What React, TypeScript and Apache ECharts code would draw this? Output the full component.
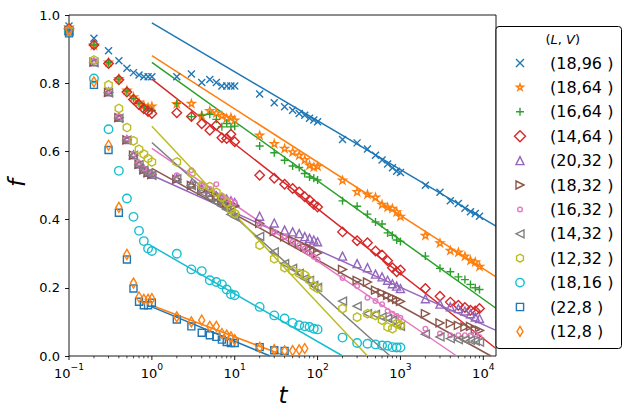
import React, { useEffect, useRef } from 'react';
import * as echarts from 'echarts';

// ---------------- data ----------------
const T_EARLY = [0.1, 0.2, 0.3, 0.4, 0.5, 0.6, 0.7, 0.8, 0.9, 1];
const T_UNITS = [2, 3, 4, 5, 6, 7, 8, 9, 10];
const T_TENS = [20, 30, 40, 50, 60, 70, 80, 90, 100];
const T_HUNDREDS = [200, 300, 400, 500, 600, 700, 800, 900, 1000];
const T_THOUSANDS = [2000, 3000, 4000, 5000, 6000, 7000, 8000, 9000];
const T_ALL = [...T_EARLY, ...T_UNITS, ...T_TENS, ...T_HUNDREDS, ...T_THOUSANDS];

const seriesNames = ['(18,96 )', '(18,64 )', '(16,64 )', '(14,64 )', '(20,32 )', '(18,32 )', '(16,32 )', '(14,32 )', '(12,32 )', '(18,16 )', '(22,8 )', '(12,8 )'];

const f_18_96 = [0.968, 0.932, 0.895, 0.866, 0.844, 0.831, 0.824, 0.819, 0.819, 0.819,
  0.819, 0.827, 0.802, 0.811, 0.802, 0.792, 0.792, 0.792, 0.792,
  0.768, 0.743, 0.731, 0.721, 0.711, 0.706, 0.697, 0.692, 0.687,
  0.635, 0.625, 0.607, 0.589, 0.575, 0.563, 0.552, 0.542, 0.538,
  0.501, 0.480, 0.455, 0.447, 0.433, 0.423, 0.418, 0.410];
const f_18_64 = [0.965, 0.912, 0.862, 0.814, 0.780, 0.760, 0.745, 0.735, 0.730, 0.733,
  0.740, 0.741, 0.706, 0.720, 0.713, 0.705, 0.698, 0.700, 0.692,
  0.648, 0.623, 0.609, 0.599, 0.589, 0.576, 0.560, 0.555, 0.557,
  0.516, 0.482, 0.475, 0.466, 0.445, 0.437, 0.433, 0.423, 0.410,
  0.354, 0.332, 0.310, 0.305, 0.293, 0.281, 0.276, 0.263];
const f_16_64 = [0.962, 0.912, 0.860, 0.812, 0.777, 0.755, 0.741, 0.731, 0.725, 0.720,
  0.740, 0.702, 0.706, 0.709, 0.694, 0.672, 0.682, 0.672, 0.674,
  0.616, 0.596, 0.574, 0.557, 0.553, 0.535, 0.525, 0.521, 0.516,
  0.455, 0.439, 0.416, 0.393, 0.387, 0.361, 0.354, 0.340, 0.336,
  0.293, 0.257, 0.247, 0.232, 0.224, 0.210, 0.200, 0.195];
const f_14_64 = [0.960, 0.912, 0.858, 0.810, 0.774, 0.752, 0.737, 0.725, 0.717, 0.711,
  0.713, 0.702, 0.681, 0.662, 0.677, 0.640, 0.638, 0.650, 0.628,
  0.530, 0.521, 0.504, 0.491, 0.481, 0.467, 0.457, 0.445, 0.437,
  0.364, 0.338, 0.332, 0.308, 0.296, 0.279, 0.259, 0.247, 0.252,
  0.198, 0.175, 0.158, 0.149, 0.142, 0.134, 0.132, 0.139];
const f_20_32 = [0.955, 0.863, 0.775, 0.700, 0.635, 0.590, 0.563, 0.548, 0.539, 0.533,
  0.521, 0.505, 0.490, 0.480, 0.470, 0.465, 0.460, 0.455, 0.450,
  0.410, 0.390, 0.369, 0.364, 0.359, 0.350, 0.345, 0.340, 0.335,
  0.293, 0.271, 0.259, 0.240, 0.232, 0.222, 0.212, 0.205, 0.198,
  0.168, 0.152, 0.144, 0.139, 0.132, 0.124, 0.114, 0.110];
const f_18_32 = [0.955, 0.862, 0.773, 0.699, 0.634, 0.589, 0.562, 0.546, 0.537, 0.532,
  0.518, 0.500, 0.485, 0.475, 0.465, 0.455, 0.450, 0.445, 0.440,
  0.389, 0.365, 0.349, 0.340, 0.330, 0.320, 0.318, 0.310, 0.302,
  0.254, 0.222, 0.217, 0.193, 0.185, 0.178, 0.171, 0.166, 0.160,
  0.124, 0.097, 0.095, 0.090, 0.085, 0.087, 0.077, 0.075];
const f_16_32 = [0.955, 0.865, 0.778, 0.703, 0.638, 0.592, 0.566, 0.550, 0.540, 0.535,
  0.530, 0.545, 0.500, 0.490, 0.504, 0.470, 0.460, 0.455, 0.450,
  0.384, 0.364, 0.349, 0.335, 0.325, 0.315, 0.301, 0.291, 0.283,
  0.229, 0.205, 0.171, 0.161, 0.152, 0.132, 0.124, 0.117, 0.112,
  0.080, 0.066, 0.061, 0.061, 0.061, 0.060, 0.064, 0.056];
const f_14_32 = [0.953, 0.860, 0.772, 0.697, 0.633, 0.588, 0.561, 0.545, 0.536, 0.530,
  0.520, 0.500, 0.480, 0.465, 0.450, 0.440, 0.430, 0.415, 0.408,
  0.351, 0.305, 0.271, 0.257, 0.242, 0.227, 0.222, 0.207, 0.201,
  0.161, 0.146, 0.124, 0.122, 0.114, 0.110, 0.105, 0.090, 0.087,
  0.064, 0.056, 0.051, 0.048, 0.047, 0.046, 0.044, 0.041];
const f_12_32 = [0.955, 0.868, 0.795, 0.726, 0.670, 0.631, 0.606, 0.592, 0.579, 0.569,
  0.569, 0.537, 0.500, 0.497, 0.480, 0.465, 0.450, 0.430, 0.418,
  0.325, 0.285, 0.259, 0.250, 0.242, 0.237, 0.222, 0.205, 0.198,
  0.139, 0.114, 0.124, 0.119, 0.105, 0.085, 0.080, 0.095, 0.090];
const f_18_16 = [0.950, 0.814, 0.665, 0.543, 0.462, 0.408, 0.367, 0.337, 0.315, 0.308,
  0.300, 0.254, 0.249, 0.222, 0.217, 0.210, 0.195, 0.181, 0.178,
  0.144, 0.119, 0.110, 0.097, 0.090, 0.087, 0.085, 0.080, 0.078,
  0.054, 0.038, 0.036, 0.034, 0.031, 0.030, 0.026, 0.025, 0.025];
const f_22_8 = [0.946, 0.795, 0.604, 0.420, 0.283, 0.198, 0.159, 0.149, 0.149, 0.156,
  0.107, 0.087, 0.068, 0.061, 0.056, 0.048, 0.041, 0.038, 0.038,
  0.026, 0.017, 0.015];
const f_12_8 = [0.955, 0.804, 0.618, 0.436, 0.298, 0.214, 0.173, 0.166, 0.166, 0.168,
  0.115, 0.100, 0.105, 0.087, 0.087, 0.066, 0.061, 0.056, 0.048,
  0.025, 0.019, 0.015, 0.016, 0.018, 0.022];

const seriesValues = [f_18_96, f_18_64, f_16_64, f_14_64, f_20_32, f_18_32, f_16_32, f_14_32, f_12_32, f_18_16, f_22_8, f_12_8];

// fitted straight lines (in log t): start / end points
const fitStartT = [1, 1, 1, 1, 1, 1, 1, 1, 1, 1, 1, 1];
const fitStartF = [0.977, 0.881, 0.861, 0.812, 0.530, 0.550, 0.609, 0.626, 0.674, 0.322, 0.144, 0.148];
const fitEndT = [14230, 14230, 14230, 14230, 14230, 12400, 4780, 750, 400, 201, 26.7, 41];
const fitEndF = [0.381, 0.232, 0.140, 0.022, 0.075, 0, 0, 0, 0, 0, 0, 0];

const X_MIN = 0.1;
const X_MAX = 14230;
const MAJOR_TICKS = [0.1, 1, 10, 100, 1000, 10000];
const MINOR_TICKS = [0.2, 0.3, 0.4, 0.5, 0.6, 0.7, 0.8, 0.9,
  2, 3, 4, 5, 6, 7, 8, 9, 20, 30, 40, 50, 60, 70, 80, 90,
  200, 300, 400, 500, 600, 700, 800, 900, 2000, 3000, 4000, 5000, 6000, 7000, 8000, 9000];

// ---------------- styles ----------------
const COLORS = ['#1f77b4', '#ff7f0e', '#2ca02c', '#d62728', '#9467bd', '#8c564b', '#e377c2', '#7f7f7f', '#bcbd22', '#17becf', '#1f77b4', '#ff7f0e'];
const KINDS = ['x', 'star', 'plus', 'D', 'up', 'right', 'circle', 'left', 'hex', 'circle', 'square', 'thin'];
const SYMBOL_SIZES = [7, 7.5, 8, 9.5, 8, 8, 4.6, 8, 8.5, 8.5, 7, 10];
const LEGEND_R = [4, 3.5, 4, 5.5, 4, 4, 2.3, 4, 4, 4.2, 3.6, 5];
const FONT = 'DejaVu Sans';

const n = (v: number) => v.toFixed(2);
function shape(kind: string, r: number): string {
  const c = 10;
  const pts = (arr: number[][]) => 'M' + arr.map((p) => n(p[0]) + ' ' + n(p[1])).join('L') + 'Z';
  switch (kind) {
    case 'x':
      return `M${n(c - r)} ${n(c - r)}L${n(c + r)} ${n(c + r)}M${n(c + r)} ${n(c - r)}L${n(c - r)} ${n(c + r)}`;
    case 'plus':
      return `M${n(c)} ${n(c - r)}L${n(c)} ${n(c + r)}M${n(c - r)} ${n(c)}L${n(c + r)} ${n(c)}`;
    case 'star': {
      const a: number[][] = [];
      for (let k = 0; k < 10; k++) {
        const ang = (-90 + 36 * k) * Math.PI / 180;
        const rr = k % 2 === 0 ? r : r * 0.382;
        a.push([c + rr * Math.cos(ang), c + rr * Math.sin(ang)]);
      }
      return pts(a);
    }
    case 'D':
      return pts([[c, c - r], [c + r, c], [c, c + r], [c - r, c]]);
    case 'thin':
      return pts([[c, c - r], [c + 0.6 * r, c], [c, c + r], [c - 0.6 * r, c]]);
    case 'up':
      return pts([[c, c - r], [c + r, c + r], [c - r, c + r]]);
    case 'right':
      return pts([[c + r, c], [c - r, c - r], [c - r, c + r]]);
    case 'left':
      return pts([[c - r, c], [c + r, c - r], [c + r, c + r]]);
    case 'square':
      return pts([[c - r, c - r], [c + r, c - r], [c + r, c + r], [c - r, c + r]]);
    case 'hex': {
      const a: number[][] = [];
      for (let k = 0; k < 6; k++) {
        const ang = (-90 + 60 * k) * Math.PI / 180;
        a.push([c + r * Math.cos(ang), c + r * Math.sin(ang)]);
      }
      return pts(a);
    }
    case 'circle':
    default:
      return `M${n(c - r)} ${n(c)}A${n(r)} ${n(r)} 0 1 0 ${n(c + r)} ${n(c)}A${n(r)} ${n(r)} 0 1 0 ${n(c - r)} ${n(c)}Z`;
  }
}
const seriesSymbol = (kind: string) => 'path://' + shape(kind, 10);
const legendSymbol = (kind: string, r: number) => 'path://M0 0M20 20' + shape(kind, r);

export default function App() {
  const ref = useRef<HTMLDivElement>(null);
  useEffect(() => {
    if (!ref.current) return;
    const chart = echarts.init(ref.current, undefined, { renderer: 'svg' });

    const series: any[] = [];
    seriesNames.forEach((name, i) => {
      const vals = seriesValues[i];
      series.push({
        type: 'scatter',
        name,
        data: vals.map((f, k) => [T_ALL[k], f]),
        symbol: seriesSymbol(KINDS[i]),
        symbolSize: SYMBOL_SIZES[i],
        symbolKeepAspect: true,
        itemStyle: { color: 'rgba(0,0,0,0)', borderColor: COLORS[i], borderWidth: 1.4, opacity: 1 },
        emphasis: { disabled: true },
        silent: true,
        z: 2,
      });
      series.push({
        type: 'line',
        name: 'fit' + i,
        data: [[fitStartT[i], fitStartF[i]], [fitEndT[i], fitEndF[i]]],
        showSymbol: false,
        symbol: 'none',
        lineStyle: { color: COLORS[i], width: 1.5 },
        emphasis: { disabled: true },
        silent: true,
        clip: true,
        z: 2,
      });
    });

    const tickSeries = (ticks: number[], len: number, w: number) => ({
      type: 'custom',
      silent: true,
      clip: false,
      z: 5,
      data: ticks.map((t) => [t, 0]),
      renderItem: (_p: any, api: any) => {
        const p = api.coord([api.value(0), 0]);
        return {
          type: 'line',
          shape: { x1: p[0], y1: p[1], x2: p[0], y2: p[1] + len },
          style: { stroke: '#000', lineWidth: w },
        };
      },
    });
    series.push(tickSeries(MAJOR_TICKS, 4, 0.9));
    series.push(tickSeries(MINOR_TICKS, 2.3, 0.7));

    chart.setOption({
      animation: false,
      grid: {
        left: 69, top: 15, width: 427, height: 341,
        show: true, borderColor: '#000', borderWidth: 0.9, backgroundColor: 'transparent',
        containLabel: false, outerBoundsMode: 'none',
      },
      xAxis: {
        type: 'log', logBase: 10, min: X_MIN, max: X_MAX,
        axisLine: { show: false },
        axisTick: { show: false },
        splitLine: { show: false },
        minorTick: { show: false },
        axisLabel: {
          interval: 0, margin: 6, color: '#000',
          formatter: (v: number) => {
            const e = Math.log10(v);
            const r = Math.round(e);
            if (Math.abs(e - r) > 1e-6) return '';
            return '{b|10}{s|' + String(r).replace('-', '\u2212') + '}';
          },
          rich: {
            b: { fontFamily: FONT, fontSize: 13, color: '#000', lineHeight: 18, verticalAlign: 'bottom' },
            s: { fontFamily: FONT, fontSize: 9.2, color: '#000', lineHeight: 10, verticalAlign: 'top' },
          },
        },
      },
      yAxis: {
        type: 'value', min: 0, max: 1, interval: 0.2,
        axisLine: { show: false },
        axisTick: { show: true, length: 4, lineStyle: { color: '#000', width: 0.9 } },
        splitLine: { show: false },
        axisLabel: { margin: 9, color: '#000', fontFamily: FONT, fontSize: 13, formatter: (v: number) => v.toFixed(1) },
      },
      legend: {
        orient: 'vertical', left: 509.3, top: 52.3, itemWidth: 50, itemHeight: 20, itemGap: 3,
        padding: 0, align: 'left', selectedMode: false, symbolKeepAspect: true, z: 6,
        textStyle: { fontFamily: FONT, fontSize: 16, color: '#000', lineHeight: 20 },
        data: seriesNames.map((name, i) => ({
          name,
          icon: legendSymbol(KINDS[i], LEGEND_R[i]),
          itemStyle: { color: 'rgba(0,0,0,0)', borderColor: COLORS[i], borderWidth: 1.4 },
        })),
      },
      graphic: [
        {
          type: 'rect', z: 3,
          shape: { x: 496, y: 26.5, width: 125.5, height: 322, r: 3 },
          style: { fill: '#fff', stroke: '#000', lineWidth: 1 },
          silent: true,
        },
        {
          type: 'text', z: 7, x: 562.7, y: 39.5,
          style: {
            text: '{n|(}{i|L}{n|, }{i|V}{n|)}',
            align: 'center', verticalAlign: 'middle',
            rich: {
              n: { fontFamily: FONT, fontSize: 13, fill: '#000' },
              i: { fontFamily: FONT, fontSize: 13, fontStyle: 'italic', fill: '#000' },
            },
          },
          silent: true,
        },
        {
          type: 'text', z: 7, x: 283, y: 395,
          style: { text: 't', fontFamily: FONT, fontSize: 23, fontStyle: 'italic', fill: '#000', align: 'center', verticalAlign: 'middle' },
          silent: true,
        },
        {
          type: 'text', z: 7, x: 16.7, y: 183, rotation: Math.PI / 2,
          style: { text: 'f', fontFamily: FONT, fontSize: 23, fontStyle: 'italic', fill: '#000', align: 'center', verticalAlign: 'middle' },
          silent: true,
        },
      ],
      series,
    });
    return () => chart.dispose();
  }, []);
  return <div ref={ref} style={{ position: 'absolute', left: 0, top: 0, width: 632, height: 418 }} />;
}
